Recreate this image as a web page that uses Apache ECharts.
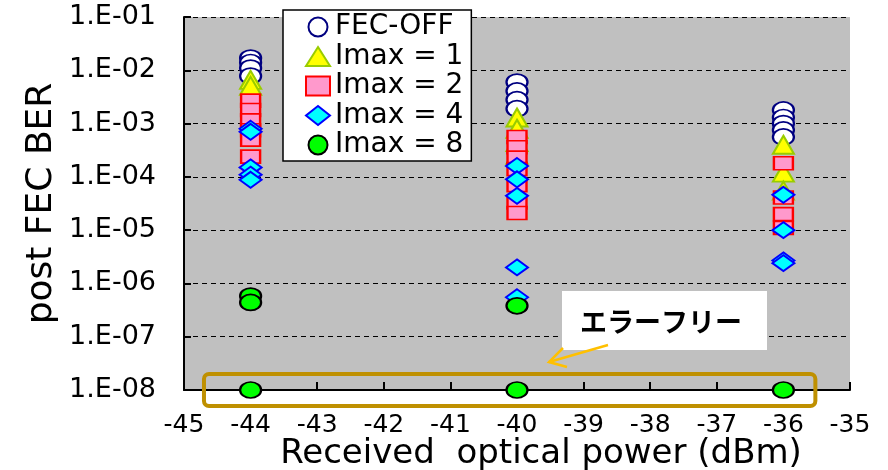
<!DOCTYPE html>
<html>
<head>
<meta charset="utf-8">
<script src="https://cdn.jsdelivr.net/npm/echarts@6/dist/echarts.min.js"></script>
<style>
  html, body { margin: 0; padding: 0; background: #ffffff; }
  #chart { width: 888px; height: 470px; }
</style>
</head>
<body>
<div id="chart"></div>
<script>
// Received optical power (dBm) vs post-FEC bit error rate
const seriesNames = ['FEC-OFF', 'Imax = 1', 'Imax = 2', 'Imax = 4', 'Imax = 8'];

const fecOff = [
  [-44, 1.7e-2], [-44, 1.4e-2], [-44, 1.1e-2], [-44, 7.8e-3],
  [-40, 6.0e-3], [-40, 4.1e-3], [-40, 2.8e-3], [-40, 1.9e-3],
  [-36, 1.8e-3], [-36, 1.3e-3], [-36, 1.0e-3], [-36, 7.6e-4], [-36, 5.6e-4]
];
const imax1 = [
  [-44, 6.6e-3], [-44, 5.1e-3],
  [-40, 1.3e-3], [-40, 8.0e-4], [-40, 4.5e-4], [-40, 2.6e-4],
  [-36, 4.0e-4], [-36, 1.2e-4], [-36, 5.5e-5]
];
const imax2 = [
  [-44, 2.7e-3], [-44, 1.8e-3], [-44, 1.15e-3], [-44, 7.5e-4], [-44, 5.0e-4], [-44, 2.4e-4],
  [-40, 5.6e-4], [-40, 3.6e-4], [-40, 2.3e-4], [-40, 1.4e-4], [-40, 7.0e-5], [-40, 3.3e-5], [-40, 2.1e-5],
  [-36, 1.8e-4], [-36, 4.1e-5], [-36, 2.0e-5], [-36, 1.1e-5]
];
const imax4 = [
  [-44, 8.0e-4], [-44, 7.0e-4], [-44, 1.5e-4], [-44, 1.1e-4], [-44, 8.8e-5],
  [-40, 1.6e-4], [-40, 9.0e-5], [-40, 4.4e-5], [-40, 2.0e-6], [-40, 5.5e-7],
  [-36, 4.6e-5], [-36, 1.0e-5], [-36, 2.7e-6], [-36, 2.4e-6]
];
const imax8 = [
  [-44, 5.8e-7], [-44, 4.4e-7], [-44, 1e-8],
  [-40, 3.8e-7], [-40, 1e-8],
  [-36, 1e-8]
];

const xTicks = { min: -45, max: -35, step: 1 };
const yRange = { min: 1e-8, max: 1e-1 };
const xTitle = 'Received  optical power (dBm)';
const yTitle = 'post FEC BER';
const noteText = 'エラーフリー';

const FONT = 'Verdana, "DejaVu Sans", sans-serif';

function expLabel(v) {
  const e = Math.round(Math.log10(v));
  const n = Math.abs(e);
  return '1.E' + (e < 0 ? '-' : '+') + (n < 10 ? '0' + n : String(n));
}

const styles = [
  { symbol: 'circle',   size: [21, 16], color: '#ffffff', border: '#000080', bw: 2 },
  { symbol: 'triangle', size: [21, 18], color: '#ffff00', border: '#99cc00', bw: 2 },
  { symbol: 'rect',     size: [19, 13], color: '#ff99cc', border: '#ff0000', bw: 2 },
  { symbol: 'diamond',  size: [22, 16], color: '#00ffff', border: '#0000ff', bw: 2 },
  { symbol: 'circle',   size: [21, 16], color: '#00ff00', border: '#000000', bw: 2 }
];
const seriesData = [fecOff, imax1, imax2, imax4, imax8];

const chart = echarts.init(document.getElementById('chart'), null, { renderer: 'canvas' });

chart.setOption({
  animation: false,
  backgroundColor: '#ffffff',
  textStyle: { fontFamily: FONT },
  grid: {
    left: 184, right: 38, top: 17, bottom: 80,
    outerBoundsMode: 'none',
    containLabel: false,
    show: true, backgroundColor: '#c0c0c0', borderWidth: 0
  },
  legend: {
    data: seriesNames.map((n, i) => ({ name: n, icon: styles[i].symbol })),
    orient: 'vertical',
    left: 283, top: 10,
    padding: [3, 8, 2, 22],
    itemGap: 1.5,
    itemWidth: 24, itemHeight: 19,
    symbolKeepAspect: false,
    backgroundColor: '#ffffff',
    borderColor: '#000000', borderWidth: 1.5,
    textStyle: { fontFamily: FONT, fontSize: 28, color: '#000000' }
  },
  xAxis: {
    type: 'value',
    min: xTicks.min, max: xTicks.max, interval: xTicks.step,
    name: xTitle,
    nameLocation: 'middle',
    nameGap: 47,
    nameMoveOverlap: false,
    nameTextStyle: { fontFamily: FONT, fontSize: 34, color: '#000000', padding: [0, 0, 0, 48] },
    axisLine: { show: true, onZero: false, lineStyle: { color: '#000000', width: 2 } },
    axisTick: { show: true, inside: true, length: 8, lineStyle: { color: '#000000', width: 2 } },
    axisLabel: { fontFamily: FONT, fontSize: 25, color: '#000000', margin: 23 },
    splitLine: { show: false }
  },
  yAxis: {
    type: 'log',
    logBase: 10,
    min: yRange.min, max: yRange.max,
    name: yTitle,
    nameLocation: 'middle',
    nameRotate: 90,
    nameGap: 124,
    nameMoveOverlap: false,
    nameTextStyle: { fontFamily: FONT, fontSize: 36, color: '#000000' },
    axisLine: { show: true, lineStyle: { color: '#000000', width: 2 } },
    axisTick: { show: true, inside: true, length: 7, lineStyle: { color: '#000000', width: 2 } },
    axisLabel: { fontFamily: FONT, fontSize: 27, color: '#000000', margin: 28, formatter: expLabel },
    splitLine: { show: true, lineStyle: { color: '#000000', width: 1.2, type: [5, 4] } }
  },
  series: seriesData.map((d, i) => ({
    name: seriesNames[i],
    type: 'scatter',
    clip: false,
    symbol: styles[i].symbol,
    symbolSize: styles[i].size,
    data: d,
    z: 3 + i,
    itemStyle: { color: styles[i].color, borderColor: styles[i].border, borderWidth: styles[i].bw, opacity: 1 }
  }))
});

// Annotation: outline around the error-free points, callout label and arrow
const boxL = chart.convertToPixel({ gridIndex: 0 }, [-44.7, yRange.min]);
const boxR = chart.convertToPixel({ gridIndex: 0 }, [-35.52, yRange.min]);
chart.setOption({
  graphic: [
    {
      type: 'rect', z: 20,
      shape: { x: boxL[0], y: boxL[1] - 16, width: boxR[0] - boxL[0], height: 32, r: 5 },
      style: { fill: 'none', stroke: '#bf9000', lineWidth: 4 }
    },
    {
      type: 'rect', z: 20,
      shape: { x: 562, y: 291, width: 205, height: 59 },
      style: { fill: '#ffffff', stroke: 'none' }
    },
    {
      type: 'text', z: 21,
      x: 661, y: 322,
      style: {
        text: noteText, fill: '#000000',
        font: 'bold 27px "Noto Sans CJK JP", sans-serif',
        align: 'center', verticalAlign: 'middle'
      }
    },
    {
      type: 'polyline', z: 21,
      shape: { points: [[608, 345], [549, 362]] },
      style: { stroke: '#ffc000', lineWidth: 2.5, fill: 'none' }
    },
    {
      type: 'polyline', z: 21,
      shape: { points: [[563, 348], [549, 362], [567, 367]] },
      style: { stroke: '#ffc000', lineWidth: 2.5, fill: 'none' }
    }
  ]
});
</script>
</body>
</html>
